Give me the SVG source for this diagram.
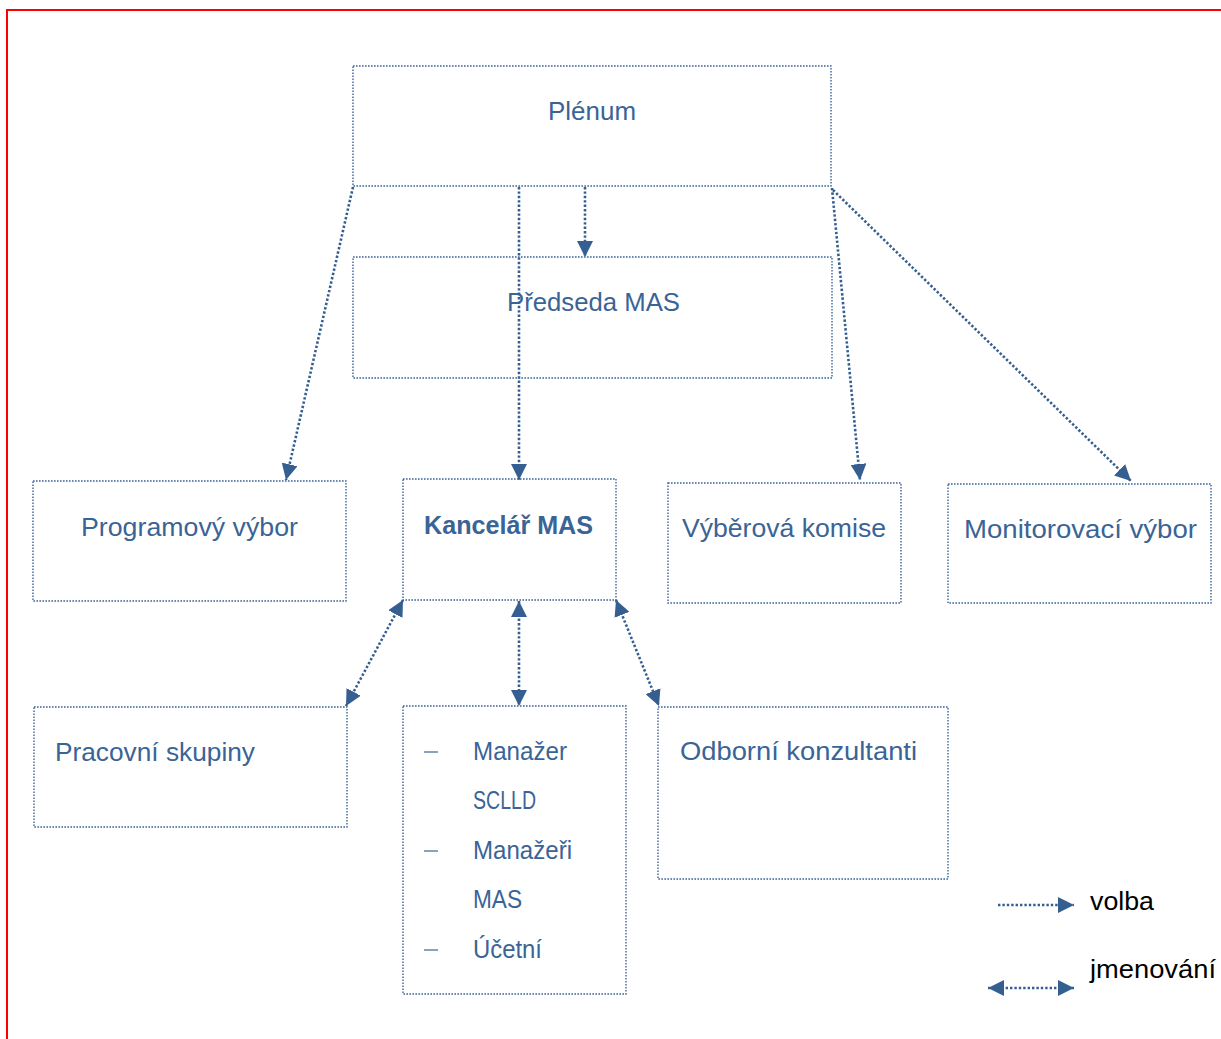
<svg xmlns="http://www.w3.org/2000/svg" width="1221" height="1039" viewBox="0 0 1221 1039">
<defs>
<marker id="ah" markerUnits="userSpaceOnUse" markerWidth="16" markerHeight="16" viewBox="0 0 14 14" refX="14" refY="7" orient="auto-start-reverse">
<path d="M0,0 L14,7 L0,14 Z" fill="#365F91"/>
</marker>
</defs>
<style>
.box{fill:#fff;stroke:#3A6496;stroke-width:1.4;stroke-dasharray:1.6 1.4}
.con{fill:none;stroke:#365F91;stroke-width:2.6;stroke-dasharray:2.4 2}
.t{font-family:"Liberation Sans",Arial,sans-serif;font-size:26px;fill:#3A6496}
.b{font-weight:bold}
.lg{font-family:"Liberation Sans",Arial,sans-serif;font-size:26px;fill:#000}
</style>
<rect width="1221" height="1039" fill="#fff"/>
<path d="M7,1039 V10 H1221" fill="none" stroke="#FF0000" stroke-width="2"/>

<g id="plenum"><rect class="box" x="353" y="66" width="478" height="120"/><text class="t" x="548" y="120" textLength="88" lengthAdjust="spacingAndGlyphs">Plénum</text></g>
<g id="predseda"><rect class="box" x="353" y="257" width="479" height="121"/><text class="t" x="507" y="311" textLength="173" lengthAdjust="spacingAndGlyphs">Předseda MAS</text></g>
<g id="programovy"><rect class="box" x="33" y="481" width="313" height="120"/><text class="t" x="81" y="536" textLength="217" lengthAdjust="spacingAndGlyphs">Programový výbor</text></g>
<g id="kancelar"><rect class="box" x="403" y="479" width="213" height="121"/><text class="t b" x="424" y="534" textLength="169" lengthAdjust="spacingAndGlyphs">Kancelář MAS</text></g>
<g id="vyberova"><rect class="box" x="668" y="483" width="233" height="120"/><text class="t" x="682" y="537" textLength="204" lengthAdjust="spacingAndGlyphs">Výběrová komise</text></g>
<g id="monitorovaci"><rect class="box" x="948" y="484" width="263" height="119"/><text class="t" x="964" y="538" textLength="233" lengthAdjust="spacingAndGlyphs">Monitorovací výbor</text></g>
<g id="pracovni"><rect class="box" x="34" y="707" width="313" height="120"/><text class="t" x="55" y="761" textLength="200" lengthAdjust="spacingAndGlyphs">Pracovní skupiny</text></g>
<g id="zamestnanci"><rect class="box" x="403" y="706" width="223" height="288"/>
<g stroke="#3A6496" stroke-width="1.2"><line x1="424" y1="752" x2="438" y2="752"/><line x1="424" y1="851" x2="438" y2="851"/><line x1="424" y1="950" x2="438" y2="950"/></g>
<text class="t" x="473" y="760" textLength="94" lengthAdjust="spacingAndGlyphs">Manažer</text>
<text class="t" x="473" y="809" textLength="63" lengthAdjust="spacingAndGlyphs">SCLLD</text>
<text class="t" x="473" y="859" textLength="99" lengthAdjust="spacingAndGlyphs">Manažeři</text>
<text class="t" x="473" y="908" textLength="49" lengthAdjust="spacingAndGlyphs">MAS</text>
<text class="t" x="473" y="958" textLength="69" lengthAdjust="spacingAndGlyphs">Účetní</text>
</g>
<g id="odborni"><rect class="box" x="658" y="707" width="290" height="172"/><text class="t" x="680" y="760" textLength="237" lengthAdjust="spacingAndGlyphs">Odborní konzultanti</text></g>

<g id="connectors">
<line class="con" x1="353" y1="187" x2="286" y2="480" marker-end="url(#ah)"/>
<line class="con" x1="519" y1="187" x2="519" y2="480" marker-end="url(#ah)"/>
<line class="con" x1="585" y1="187" x2="585" y2="257" marker-end="url(#ah)"/>
<line class="con" x1="832" y1="188" x2="860" y2="480" marker-end="url(#ah)"/>
<line class="con" x1="833" y1="190" x2="1131" y2="481" marker-end="url(#ah)"/>
<line class="con" x1="403" y1="600" x2="346" y2="706" marker-start="url(#ah)" marker-end="url(#ah)"/>
<line class="con" x1="519" y1="601" x2="519" y2="706" marker-start="url(#ah)" marker-end="url(#ah)"/>
<line class="con" x1="616" y1="600" x2="659" y2="706" marker-start="url(#ah)" marker-end="url(#ah)"/>
</g>

<g id="legend">
<line class="con" x1="998" y1="905" x2="1074" y2="905" marker-end="url(#ah)"/>
<text class="lg" x="1090" y="910" textLength="64" lengthAdjust="spacingAndGlyphs">volba</text>
<line class="con" x1="988" y1="988" x2="1074" y2="988" marker-start="url(#ah)" marker-end="url(#ah)"/>
<text class="lg" x="1090" y="978" textLength="126" lengthAdjust="spacingAndGlyphs">jmenování</text>
</g>
</svg>
